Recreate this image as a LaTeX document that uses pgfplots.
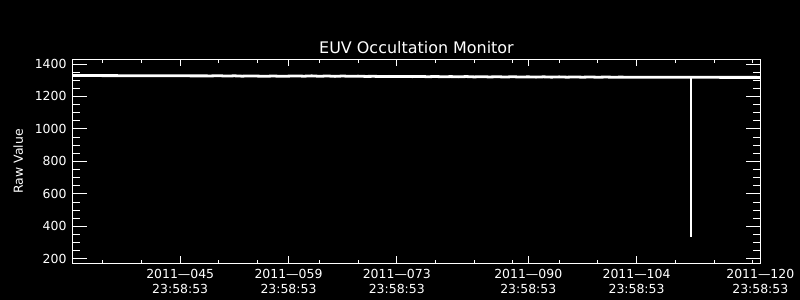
\documentclass[border=0pt]{standalone}
\usepackage{pgfplots}
\pgfplotsset{compat=1.18}
\usepackage{fontspec}
\setmainfont{DejaVu Sans}
\newcommand{\tl}{\fontsize{12.5}{14.5}\selectfont}
\begin{document}
\begin{tikzpicture}
\useasboundingbox (0,0) rectangle (800bp,300bp);
\fill[black] (0,0) rectangle (800bp,300bp);
\pgfplotsset{
  common/.style={
    at={(72.7bp,36.7bp)}, anchor=south west, scale only axis,
    width=687.6bp, height=204bp,
    xmin=31.1, xmax=120, ymin=171.6, ymax=1429,
    axis line style={white, line width=0.8bp},
    tick style={white, line width=0.8bp},
    tick align=inside,
  }
}
\begin{axis}[common,
  xtick={45,59,73,90,104,120},
  xticklabels={{2011\textemdash045\\23:58:53},{2011\textemdash059\\23:58:53},{2011\textemdash073\\23:58:53},{2011\textemdash090\\23:58:53},{2011\textemdash104\\23:58:53},{2011\textemdash120\\23:58:53}},
  minor xtick={35,40,50,55,63,68,78,83,88,94,99,109,114,119},
  ytick=\empty,
  major tick length=7bp, minor tick length=3.5bp,
  xticklabel style={align=center, font=\tl, text=white, inner sep=0pt, yshift=-6bp},
]
\addplot[white, line width=2.8bp] coordinates {
(31.1,1329.0) (33,1328.7) (35,1328.5) (37,1328.2) (39,1327.9) (41,1327.7)
(43,1327.4) (45,1327.1) (47,1326.9) (49,1326.6) (50,1327.8) (51,1325.6)
(52,1327.2) (53,1325.0) (54,1326.6) (55,1325.4) (56,1324.2) (57,1326.0)
(58,1324.3) (59,1325.2) (60,1326.5) (61,1324.8) (62,1326.9) (63,1324.3)
(64,1326.2) (65,1323.8) (66,1325.9) (67,1324.0) (68,1325.2) (69,1323.4)
(70,1324.1) (71,1322.9) (72,1323.6) (73,1322.8) (74,1323.2) (75,1322.3)
(76,1323.5) (77,1321.6) (78,1322.9) (79,1321.2) (80,1322.4) (81,1320.8)
(82,1322.6) (83,1320.4) (84,1321.9) (85,1320.2) (86,1321.5) (87,1319.8)
(88,1321.4) (89,1319.7) (90,1320.8) (91,1319.2) (92,1320.9) (93,1319.0)
(94,1320.6) (95,1318.8) (96,1320.2) (97,1318.7) (98,1319.9) (99,1318.5)
(100,1319.6) (101,1318.6) (102,1319.2) (103,1318.4) (104,1318.9) (105,1318.3)
(106,1318.6) (107,1318.1) (108,1318.4) (109,1318.0) (110,1318.2) (111,1318.0)
(112,1317.9) (114,1317.8) (116,1317.6) (118,1317.5) (120,1317.4)
};
\addplot[white, line width=2bp] coordinates {(111,1318) (111,336)};
\end{axis}
\begin{axis}[common,
  xtick=\empty,
  ytick={200,400,600,800,1000,1200,1400},
  yticklabels={200,400,600,800,1000,1200,1400},
  minor ytick={250,300,350,450,500,550,650,700,750,850,900,950,1050,1100,1150,1250,1300,1350},
  major tick length=14bp, minor tick length=7bp,
  yticklabel style={font=\tl, text=white, inner sep=0pt, xshift=-6bp},
]
\end{axis}
\node[text=white, font=\fontsize{16}{18}\selectfont, anchor=base] at (416.5bp,246.7bp) {EUV Occultation Monitor};
\node[text=white, font=\fontsize{12.5}{14}\selectfont, rotate=90] at (18.3bp,138.5bp) {Raw Value};
\end{tikzpicture}
\end{document}
